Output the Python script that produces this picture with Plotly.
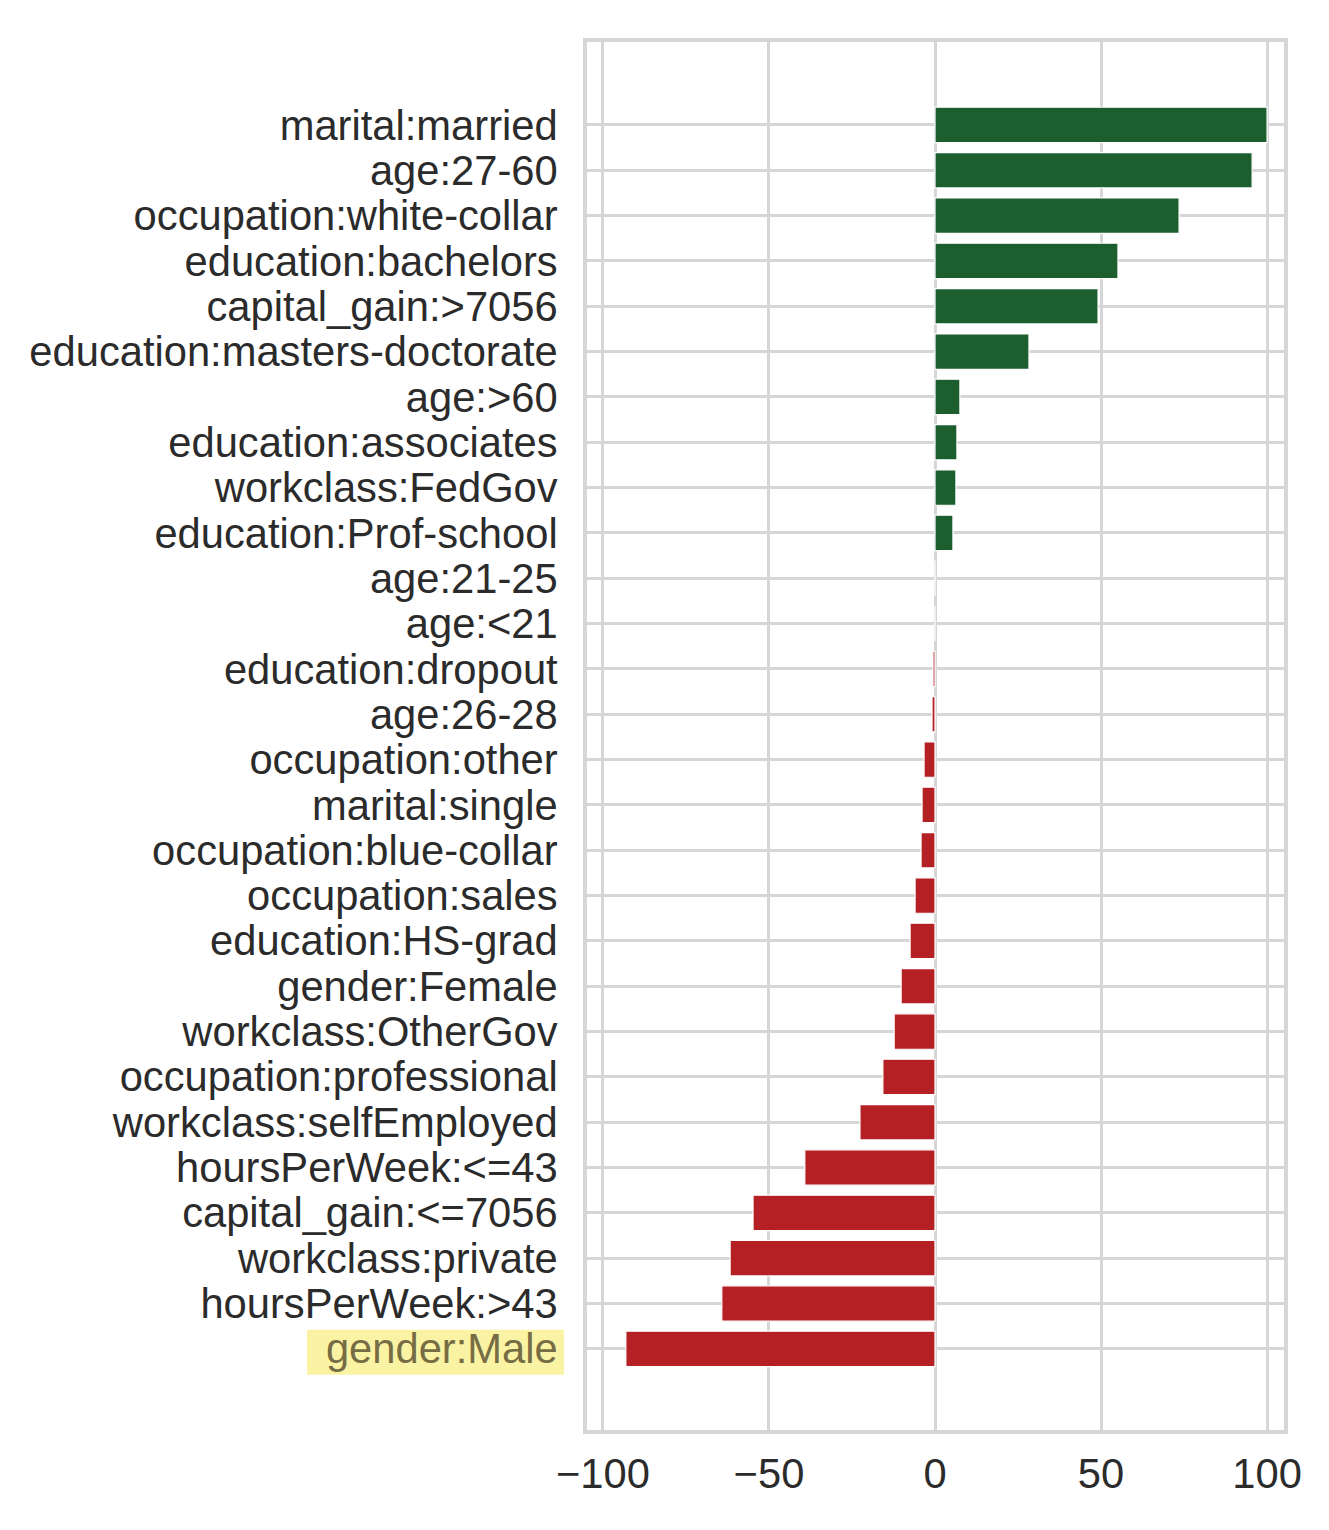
import plotly.graph_objects as go

categories = [
    "marital:married", "age:27-60", "occupation:white-collar", "education:bachelors",
    "capital_gain:>7056", "education:masters-doctorate", "age:>60", "education:associates",
    "workclass:FedGov", "education:Prof-school", "age:21-25", "age:<21",
    "education:dropout", "age:26-28", "occupation:other", "marital:single",
    "occupation:blue-collar", "occupation:sales", "education:HS-grad", "gender:Female",
    "workclass:OtherGov", "occupation:professional", "workclass:selfEmployed",
    "hoursPerWeek:<=43", "capital_gain:<=7056", "workclass:private",
    "hoursPerWeek:>43", "gender:Male",
]
values = [
    100.0, 95.5, 73.5, 55.1, 49.1, 28.3, 7.5, 6.6,
    6.3, 5.4, 0.0, 0.0,
    -0.6, -0.9, -3.3, -3.9,
    -4.2, -6.0, -7.5, -10.2,
    -12.3, -15.7, -22.6,
    -39.2, -54.8, -61.7,
    -64.2, -93.1,
]
highlight = "gender:Male"
x_ticks = [-100, -50, 0, 50, 100]

GREEN = "#1d5e2f"
RED = "#b52024"
GRID = "#d6d6d6"
TEXT = "#2b2b2b"

colors = [GREEN if v > 0 else RED for v in values]
idx = list(range(len(categories)))
ticktext = [
    (f'<span style="color:#776d44">{c}</span>' if c == highlight else c)
    for c in categories
]

fig = go.Figure(go.Bar(
    x=values, y=idx, orientation="h",
    marker=dict(color=colors, line=dict(color="white", width=1.2)),
    width=0.78,
))

hi = categories.index(highlight)
fig.add_shape(
    type="rect", xref="paper", yref="y",
    x0=-0.4017, x1=-0.033, y0=hi - 0.42, y1=hi + 0.57,
    fillcolor="#fbf3a4", line=dict(width=0), layer="below",
)

fig.update_layout(
    width=1321, height=1522,
    margin=dict(l=579, r=45, t=34, b=100),
    paper_bgcolor="white", plot_bgcolor="white",
    font=dict(family="Liberation Sans, Arial, sans-serif", size=41.7, color=TEXT),
    showlegend=False,
    bargap=0.2,
)
fig.update_xaxes(
    range=[-104.8, 105.1], tickvals=x_ticks,
    showgrid=True, gridcolor=GRID, gridwidth=3,
    zeroline=False, showline=True, linecolor=GRID, linewidth=4, mirror=True,
    ticks="", ticklabelstandoff=4,
)
fig.update_yaxes(
    range=[len(categories) - 1 + 1.79, -1.83],
    tickvals=idx, ticktext=ticktext,
    showgrid=True, gridcolor=GRID, gridwidth=3,
    zeroline=False, showline=True, linecolor=GRID, linewidth=4, mirror=True,
    ticks="", ticklabelstandoff=17,
)

fig.write_html("out.html")
